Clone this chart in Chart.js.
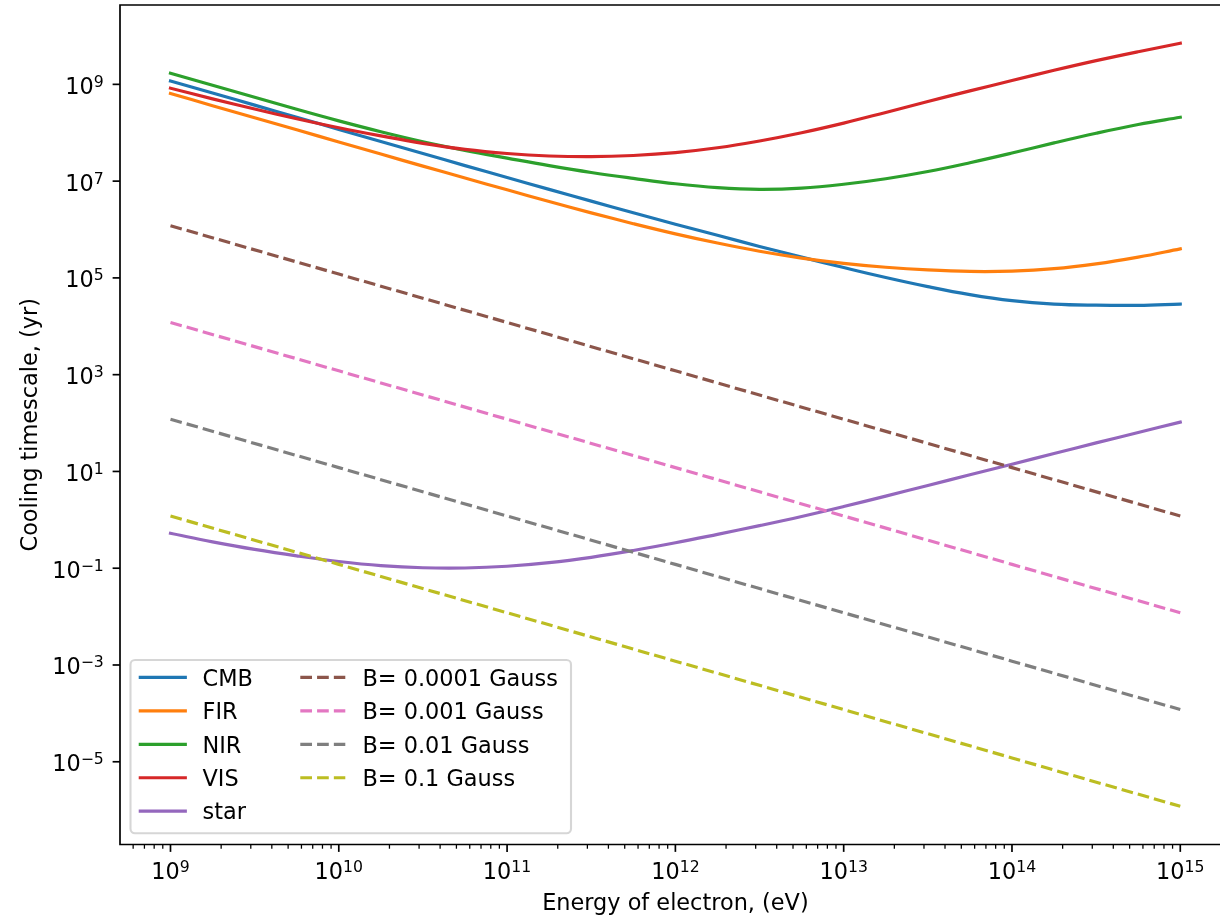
<!DOCTYPE html>
<html lang="en">
<head>
<meta charset="utf-8">
<title>Cooling timescale of electrons</title>
<script src="https://cdn.jsdelivr.net/npm/chart.js@4.4.1/dist/chart.umd.min.js"></script>
<style>
    html, body { margin: 0; padding: 0; background: #ffffff; }
    canvas { display: block; }
</style>
</head>
<body>
<canvas id="grafico-resfriamento" width="1220" height="918"></canvas>
<script>
// Electron energies (eV) for the inverse Compton curves, a quarter decade apart
const energias = [
    1e9, 1.778e9, 3.162e9, 5.623e9,
    1e10, 1.778e10, 3.162e10, 5.623e10,
    1e11, 1.778e11, 3.162e11, 5.623e11,
    1e12, 1.778e12, 3.162e12, 5.623e12,
    1e13, 1.778e13, 3.162e13, 5.623e13,
    1e14, 1.778e14, 3.162e14, 5.623e14,
    1e15
];

// Inverse Compton cooling time (yr) for each photon field
const cmb = [
    1.17e9, 6.61e8, 3.72e8, 2.09e8, 1.17e8, 6.61e7, 3.72e7, 2.09e7, 1.19e7, 6.76e6,
    3.86e6, 2.21e6, 1.29e6, 7.59e5, 4.47e5, 2.69e5, 1.64e5, 1.02e5, 6.61e4, 4.52e4,
    3.39e4, 2.88e4, 2.73e4, 2.71e4, 2.88e4
];
const fir = [
    6.46e8, 3.63e8, 2.04e8, 1.15e8, 6.46e7, 3.63e7, 2.04e7, 1.16e7, 6.61e6, 3.78e6,
    2.21e6, 1.32e6, 8.13e5, 5.25e5, 3.55e5, 2.57e5, 2.00e5, 1.66e5, 1.46e5, 1.36e5,
    1.38e5, 1.55e5, 1.95e5, 2.69e5, 3.98e5
];
const nir = [
    1.70e9, 9.55e8, 5.43e8, 3.05e8, 1.76e8, 1.05e8, 6.53e7, 4.32e7, 2.99e7, 2.09e7,
    1.51e7, 1.14e7, 8.81e6, 7.33e6, 6.76e6, 7.16e6, 8.61e6, 1.12e7, 1.58e7, 2.40e7,
    3.80e7, 6.17e7, 9.77e7, 1.48e8, 2.09e8
];
const vis = [
    8.32e8, 5.01e8, 3.09e8, 1.95e8, 1.27e8, 8.61e7, 6.03e7, 4.52e7, 3.72e7, 3.31e7,
    3.20e7, 3.39e7, 3.89e7, 4.90e7, 6.76e7, 1.00e8, 1.58e8, 2.63e8, 4.42e8, 7.33e8,
    1.20e9, 1.95e9, 3.09e9, 4.73e9, 7.08e9
];
const star = [
    0.525, 0.351, 0.245, 0.180, 0.138, 0.1135, 0.1023, 0.1012, 0.1096, 0.1303,
    0.168, 0.232, 0.335, 0.501, 0.759, 1.175, 1.884, 3.09, 5.13, 8.51,
    14.1, 23.4, 38.9, 63.8, 104.7
];

// Synchrotron cooling time (yr), one value per decade of energy
const energiasSincrotron = [1e9, 1e10, 1e11, 1e12, 1e13, 1e14, 1e15];
const campoB00001 = [1.2e6, 1.2e5, 1.2e4, 1.2e3, 120, 12, 1.2];
const campoB0001 = [1.2e4, 1.2e3, 120, 12, 1.2, 0.12, 0.012];
const campoB001 = [120, 12, 1.2, 0.12, 0.012, 1.2e-3, 1.2e-4];
const campoB01 = [1.2, 0.12, 0.012, 1.2e-3, 1.2e-4, 1.2e-5, 1.2e-6];

const rotulosIC = ['CMB', 'FIR', 'NIR', 'VIS', 'star'];
const rotulosSincrotron = ['B= 0.0001 Gauss', 'B= 0.001 Gauss', 'B= 0.01 Gauss', 'B= 0.1 Gauss'];

// Axis limits and tick marks
const limitesX = [5.012e8, 1.722e15];
const limitesY = [1.95e-7, 4.365e10];
const ticksX = [1e9, 1e10, 1e11, 1e12, 1e13, 1e14, 1e15];
const ticksY = [1e-5, 1e-3, 1e-1, 1e1, 1e3, 1e5, 1e7, 1e9];

// Estilo
const FONTE = '"DejaVu Sans", "Liberation Sans", sans-serif';
const TAM_FONTE = 22.4;
const PT = 2.11;              // pixels per point
const LARGURA_LINHA = 1.5 * PT;
const TRACEJADO = [3.7 * LARGURA_LINHA, 1.6 * LARGURA_LINHA];

const coresIC = ['#1f77b4', '#ff7f0e', '#2ca02c', '#d62728', '#9467bd'];
const coresSincrotron = ['#8c564b', '#e377c2', '#7f7f7f', '#bcbd22'];

function pontos(xs, ys) {
    return xs.map((x, i) => ({ x: x, y: ys[i] }));
}

function montarDatasets() {
    const curvasIC = [cmb, fir, nir, vis, star];
    const curvasSinc = [campoB00001, campoB0001, campoB001, campoB01];
    const lista = [];

    curvasIC.forEach((valores, i) => {
        lista.push({
            label: rotulosIC[i],
            data: pontos(energias, valores),
            borderColor: coresIC[i],
            borderWidth: LARGURA_LINHA,
            borderCapStyle: 'square',
            borderJoinStyle: 'round',
            tension: 0.4,
            pointRadius: 0,
            fill: false
        });
    });

    curvasSinc.forEach((valores, i) => {
        lista.push({
            label: rotulosSincrotron[i],
            data: pontos(energiasSincrotron, valores),
            borderColor: coresSincrotron[i],
            borderWidth: LARGURA_LINHA,
            borderDash: TRACEJADO,
            borderCapStyle: 'butt',
            borderJoinStyle: 'round',
            tension: 0,
            pointRadius: 0,
            fill: false
        });
    });

    // later series are painted over earlier ones
    lista.forEach((ds, i) => { ds.order = lista.length - i; });
    return lista;
}

// "10" with a raised exponent, like a math-text tick label
function desenharPotencia(ctx, valor, x, linhaBase, alinhamento) {
    const expoente = Math.round(Math.log10(valor));
    const sup = expoente < 0 ? '\u2212' + Math.abs(expoente) : String(expoente);
    const fonteBase = TAM_FONTE + 'px ' + FONTE;
    const fonteSup = (TAM_FONTE * 0.7) + 'px ' + FONTE;

    ctx.font = fonteBase;
    const larguraBase = ctx.measureText('10').width;
    ctx.font = fonteSup;
    const larguraSup = ctx.measureText(sup).width;
    const total = larguraBase + larguraSup;
    const x0 = alinhamento === 'right' ? x - total : x - total / 2;

    ctx.textAlign = 'left';
    ctx.textBaseline = 'alphabetic';
    ctx.font = fonteBase;
    ctx.fillText('10', x0, linhaBase);
    ctx.font = fonteSup;
    ctx.fillText(sup, x0 + larguraBase, linhaBase - 0.31 * TAM_FONTE);
}

function linha(ctx, x1, y1, x2, y2) {
    ctx.beginPath();
    ctx.moveTo(x1, y1);
    ctx.lineTo(x2, y2);
    ctx.stroke();
}

// Spines, ticks, tick labels and axis titles
function desenharEixos(chart) {
    const ctx = chart.ctx;
    const area = chart.chartArea;
    const escalaX = chart.scales.x;
    const escalaY = chart.scales.y;

    ctx.save();
    ctx.strokeStyle = '#000000';
    ctx.fillStyle = '#000000';
    ctx.lineCap = 'butt';

    // minor ticks on the energy axis
    ctx.lineWidth = 0.6 * PT;
    for (let n = 8; n <= 15; n++) {
        for (let k = 2; k <= 9; k++) {
            const v = k * Math.pow(10, n);
            if (v < escalaX.min || v > escalaX.max) continue;
            const px = escalaX.getPixelForValue(v);
            linha(ctx, px, area.bottom, px, area.bottom + 2 * PT);
        }
    }

    // major ticks
    ctx.lineWidth = 0.8 * PT;
    ticksX.forEach(v => {
        const px = escalaX.getPixelForValue(v);
        linha(ctx, px, area.bottom, px, area.bottom + 3.5 * PT);
    });
    ticksY.forEach(v => {
        const py = escalaY.getPixelForValue(v);
        linha(ctx, area.left, py, area.left - 3.5 * PT, py);
    });

    // spines (the right one falls outside the canvas)
    ctx.lineWidth = 0.8 * PT;
    ctx.lineJoin = 'miter';
    ctx.beginPath();
    ctx.moveTo(area.right + 10, area.top);
    ctx.lineTo(area.left, area.top);
    ctx.lineTo(area.left, area.bottom);
    ctx.lineTo(area.right + 10, area.bottom);
    ctx.stroke();

    // tick labels
    ticksX.forEach(v => {
        desenharPotencia(ctx, v, escalaX.getPixelForValue(v), area.bottom + 34.5, 'center');
    });
    ticksY.forEach(v => {
        desenharPotencia(ctx, v, area.left - 7 * PT - 1.5, escalaY.getPixelForValue(v) + 9.4, 'right');
    });

    // axis titles
    ctx.font = TAM_FONTE + 'px ' + FONTE;
    ctx.textAlign = 'center';
    ctx.textBaseline = 'alphabetic';
    ctx.fillText('Energy of electron, (eV)', escalaX.getPixelForValue(1e12), 910);

    ctx.translate(37, (area.top + area.bottom) / 2);
    ctx.rotate(-Math.PI / 2);
    ctx.fillText('Cooling timescale, (yr)', 0, 0);
    ctx.restore();
}

// Two-column legend box in the lower left corner
function desenharLegenda(chart) {
    const ctx = chart.ctx;
    const area = chart.chartArea;
    const datasets = chart.data.datasets;

    const caixa = { w: 440.5, h: 173.3 };
    caixa.x = area.left + 10.5;
    caixa.y = area.bottom - 11.2 - caixa.h;

    ctx.save();
    // rounded frame
    const r = 4.5;
    ctx.beginPath();
    ctx.moveTo(caixa.x + r, caixa.y);
    ctx.arcTo(caixa.x + caixa.w, caixa.y, caixa.x + caixa.w, caixa.y + caixa.h, r);
    ctx.arcTo(caixa.x + caixa.w, caixa.y + caixa.h, caixa.x, caixa.y + caixa.h, r);
    ctx.arcTo(caixa.x, caixa.y + caixa.h, caixa.x, caixa.y, r);
    ctx.arcTo(caixa.x, caixa.y, caixa.x + caixa.w, caixa.y, r);
    ctx.closePath();
    ctx.fillStyle = 'rgba(255, 255, 255, 0.8)';
    ctx.fill();
    ctx.lineWidth = 1.0 * PT;
    ctx.strokeStyle = 'rgba(204, 204, 204, 0.8)';
    ctx.stroke();

    const colunas = [
        { alca: 9.8, texto: 72, itens: datasets.slice(0, 5) },
        { alca: 169.8, texto: 232, itens: datasets.slice(5) }
    ];

    ctx.font = TAM_FONTE + 'px ' + FONTE;
    ctx.textAlign = 'left';
    ctx.textBaseline = 'alphabetic';

    colunas.forEach(col => {
        col.itens.forEach((ds, i) => {
            const yc = caixa.y + 17.4 + i * 33.45;
            const x1 = caixa.x + col.alca;
            ctx.strokeStyle = ds.borderColor;
            ctx.lineWidth = ds.borderWidth;
            ctx.lineCap = ds.borderCapStyle;
            ctx.setLineDash(ds.borderDash || []);
            ctx.lineDashOffset = 0;
            linha(ctx, x1, yc, x1 + 45, yc);
            ctx.setLineDash([]);

            ctx.fillStyle = '#000000';
            ctx.fillText(ds.label, caixa.x + col.texto, yc + 8.2);
        });
    });
    ctx.restore();
}

const pluginMolduraEixos = {
    id: 'molduraEixos',
    afterDraw(chart) {
        desenharEixos(chart);
        desenharLegenda(chart);
    }
};

function renderizarGrafico() {
    const ctx = document.getElementById('grafico-resfriamento').getContext('2d');

    new Chart(ctx, {
        type: 'line',
        data: { datasets: montarDatasets() },
        options: {
            responsive: false,
            maintainAspectRatio: false,
            devicePixelRatio: 1,
            animation: false,
            events: [],
            layout: { padding: { top: 5, right: 0, bottom: 0, left: 0 } },
            plugins: {
                legend: { display: false },
                tooltip: { enabled: false }
            },
            scales: {
                x: {
                    type: 'logarithmic',
                    min: limitesX[0],
                    max: limitesX[1],
                    bounds: 'data',
                    grid: { display: false },
                    border: { display: false },
                    ticks: { display: false },
                    afterBuildTicks: escala => { escala.ticks = ticksX.map(v => ({ value: v })); },
                    afterFit: escala => { escala.height = 73.5; }
                },
                y: {
                    type: 'logarithmic',
                    min: limitesY[0],
                    max: limitesY[1],
                    bounds: 'data',
                    grid: { display: false },
                    border: { display: false },
                    ticks: { display: false },
                    afterBuildTicks: escala => { escala.ticks = ticksY.map(v => ({ value: v })); },
                    afterFit: escala => { escala.width = 120; }
                }
            }
        },
        plugins: [pluginMolduraEixos]
    });
}

document.addEventListener('DOMContentLoaded', renderizarGrafico);
</script>
</body>
</html>
